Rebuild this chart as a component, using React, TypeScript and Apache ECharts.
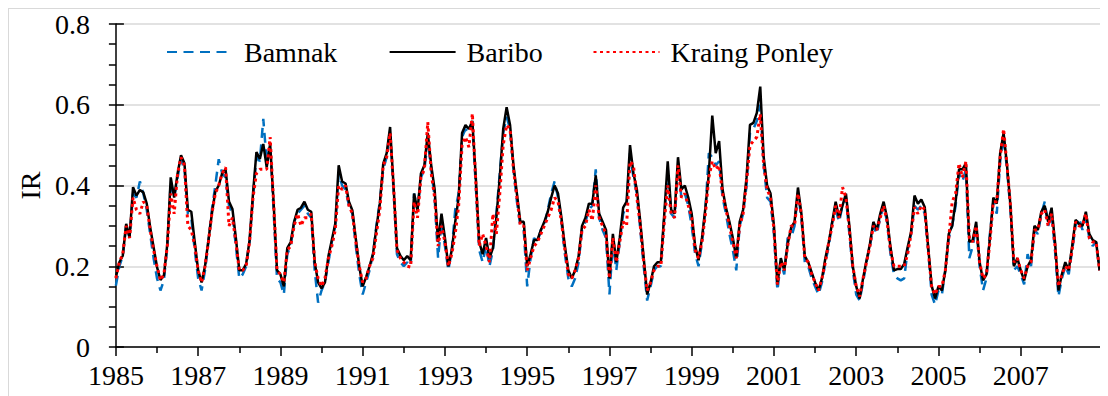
import React, { useEffect, useRef } from 'react';
import * as echarts from 'echarts';

// Years of the record; each row below holds the 12 monthly values of that year.
const years: number[] = [1985, 1986, 1987, 1988, 1989, 1990, 1991, 1992, 1993, 1994, 1995, 1996, 1997, 1998, 1999, 2000, 2001, 2002, 2003, 2004, 2005, 2006, 2007, 2008];

const xTickYears: number[] = [1985, 1987, 1989, 1991, 1993, 1995, 1997, 1999, 2001, 2003, 2005, 2007, 2009];
const yTicks: number[] = [0, 0.2, 0.4, 0.6, 0.8];

const seriesNames: string[] = ['Bamnak', 'Baribo', 'Kraing Ponley'];

const bamnak: number[][] = [
  [0.152, 0.2, 0.225, 0.3, 0.27, 0.38, 0.37, 0.41, 0.38, 0.34, 0.28, 0.22],
  [0.17, 0.14, 0.165, 0.25, 0.41, 0.37, 0.42, 0.465, 0.44, 0.33, 0.32, 0.24],
  [0.17, 0.14, 0.19, 0.26, 0.34, 0.4, 0.465, 0.43, 0.42, 0.35, 0.33, 0.25],
  [0.17, 0.18, 0.2, 0.26, 0.37, 0.47, 0.46, 0.565, 0.46, 0.5, 0.34, 0.17],
  [0.16, 0.13, 0.23, 0.25, 0.31, 0.33, 0.34, 0.35, 0.33, 0.32, 0.19, 0.11],
  [0.14, 0.16, 0.21, 0.26, 0.3, 0.43, 0.4, 0.39, 0.35, 0.33, 0.25, 0.18],
  [0.13, 0.16, 0.19, 0.23, 0.3, 0.36, 0.44, 0.47, 0.53, 0.39, 0.23, 0.21],
  [0.2, 0.21, 0.2, 0.38, 0.34, 0.42, 0.44, 0.51, 0.44, 0.37, 0.22, 0.31],
  [0.25, 0.19, 0.24, 0.34, 0.38, 0.52, 0.54, 0.53, 0.55, 0.4, 0.24, 0.21],
  [0.25, 0.2, 0.24, 0.33, 0.43, 0.53, 0.57, 0.54, 0.44, 0.36, 0.3, 0.29],
  [0.15, 0.22, 0.27, 0.26, 0.29, 0.3, 0.34, 0.38, 0.41, 0.37, 0.31, 0.23],
  [0.17, 0.15, 0.17, 0.21, 0.29, 0.31, 0.34, 0.35, 0.44, 0.32, 0.29, 0.27],
  [0.13, 0.26, 0.19, 0.26, 0.33, 0.35, 0.48, 0.42, 0.38, 0.29, 0.2, 0.115],
  [0.15, 0.19, 0.2, 0.2, 0.32, 0.44, 0.33, 0.32, 0.45, 0.37, 0.38, 0.35],
  [0.3, 0.23, 0.2, 0.26, 0.34, 0.48, 0.47, 0.45, 0.46, 0.37, 0.33, 0.28],
  [0.24, 0.19, 0.3, 0.33, 0.4, 0.53, 0.54, 0.56, 0.6, 0.45, 0.37, 0.36],
  [0.28, 0.14, 0.21, 0.18, 0.27, 0.27, 0.3, 0.38, 0.32, 0.21, 0.2, 0.17],
  [0.15, 0.13, 0.16, 0.21, 0.25, 0.31, 0.34, 0.31, 0.35, 0.37, 0.28, 0.19],
  [0.13, 0.115, 0.16, 0.21, 0.25, 0.3, 0.28, 0.32, 0.35, 0.31, 0.23, 0.18],
  [0.17, 0.165, 0.17, 0.24, 0.28, 0.35, 0.34, 0.35, 0.33, 0.24, 0.13, 0.105],
  [0.14, 0.13, 0.19, 0.27, 0.3, 0.35, 0.43, 0.41, 0.44, 0.22, 0.25, 0.3],
  [0.2, 0.14, 0.17, 0.28, 0.36, 0.33, 0.46, 0.52, 0.44, 0.34, 0.19, 0.2],
  [0.18, 0.155, 0.23, 0.2, 0.29, 0.28, 0.33, 0.36, 0.3, 0.33, 0.24, 0.125],
  [0.17, 0.2, 0.18, 0.24, 0.3, 0.32, 0.29, 0.32, 0.27, 0.25, 0.26, 0.19],
];

const baribo: number[][] = [
  [0.173, 0.21, 0.226, 0.305, 0.272, 0.396, 0.375, 0.389, 0.383, 0.355, 0.297, 0.247],
  [0.198, 0.166, 0.177, 0.255, 0.42, 0.37, 0.43, 0.475, 0.455, 0.34, 0.335, 0.26],
  [0.19, 0.16, 0.2, 0.265, 0.33, 0.385, 0.4, 0.43, 0.44, 0.36, 0.342, 0.27],
  [0.19, 0.19, 0.206, 0.264, 0.38, 0.483, 0.466, 0.503, 0.445, 0.503, 0.36, 0.19],
  [0.18, 0.15, 0.245, 0.26, 0.31, 0.34, 0.345, 0.36, 0.34, 0.335, 0.21, 0.16],
  [0.145, 0.16, 0.225, 0.265, 0.305, 0.45, 0.41, 0.405, 0.36, 0.338, 0.268, 0.2],
  [0.15, 0.173, 0.2, 0.23, 0.295, 0.355, 0.454, 0.48, 0.545, 0.4, 0.245, 0.226],
  [0.215, 0.225, 0.215, 0.38, 0.338, 0.43, 0.45, 0.53, 0.45, 0.39, 0.26, 0.33],
  [0.27, 0.2, 0.24, 0.31, 0.37, 0.53, 0.55, 0.54, 0.56, 0.42, 0.26, 0.23],
  [0.27, 0.22, 0.245, 0.32, 0.42, 0.54, 0.594, 0.55, 0.45, 0.38, 0.31, 0.31],
  [0.2, 0.23, 0.265, 0.265, 0.29, 0.31, 0.335, 0.37, 0.4, 0.38, 0.32, 0.25],
  [0.19, 0.17, 0.19, 0.225, 0.3, 0.32, 0.355, 0.355, 0.425, 0.33, 0.31, 0.29],
  [0.17, 0.28, 0.21, 0.27, 0.345, 0.36, 0.5, 0.43, 0.39, 0.31, 0.22, 0.13],
  [0.16, 0.2, 0.21, 0.21, 0.33, 0.46, 0.34, 0.33, 0.47, 0.39, 0.4, 0.37],
  [0.33, 0.25, 0.215, 0.27, 0.345, 0.43, 0.573, 0.48, 0.51, 0.39, 0.345, 0.31],
  [0.27, 0.22, 0.31, 0.34, 0.42, 0.55, 0.555, 0.58, 0.645, 0.47, 0.4, 0.38],
  [0.3, 0.155, 0.22, 0.19, 0.255, 0.295, 0.31, 0.395, 0.33, 0.225, 0.21, 0.185],
  [0.16, 0.14, 0.17, 0.22, 0.26, 0.31, 0.36, 0.32, 0.35, 0.38, 0.3, 0.2],
  [0.15, 0.12, 0.17, 0.214, 0.255, 0.31, 0.29, 0.33, 0.36, 0.32, 0.247, 0.19],
  [0.193, 0.193, 0.206, 0.247, 0.285, 0.375, 0.355, 0.365, 0.346, 0.247, 0.152, 0.12],
  [0.15, 0.14, 0.19, 0.28, 0.3, 0.36, 0.44, 0.44, 0.455, 0.26, 0.265, 0.31],
  [0.21, 0.165, 0.18, 0.27, 0.37, 0.355, 0.48, 0.53, 0.45, 0.35, 0.2, 0.22],
  [0.19, 0.165, 0.2, 0.215, 0.3, 0.29, 0.335, 0.35, 0.31, 0.345, 0.26, 0.14],
  [0.18, 0.21, 0.19, 0.25, 0.315, 0.305, 0.3, 0.335, 0.28, 0.265, 0.26, 0.19],
];

const kraingPonley: number[][] = [
  [0.17, 0.21, 0.23, 0.3, 0.27, 0.37, 0.34, 0.33, 0.36, 0.35, 0.29, 0.24],
  [0.2, 0.165, 0.18, 0.25, 0.38, 0.33, 0.43, 0.47, 0.45, 0.3, 0.29, 0.25],
  [0.19, 0.16, 0.2, 0.26, 0.33, 0.38, 0.4, 0.43, 0.445, 0.3, 0.32, 0.26],
  [0.19, 0.19, 0.2, 0.26, 0.37, 0.43, 0.44, 0.44, 0.44, 0.52, 0.36, 0.19],
  [0.18, 0.16, 0.24, 0.25, 0.3, 0.33, 0.3, 0.32, 0.32, 0.33, 0.21, 0.17],
  [0.15, 0.17, 0.22, 0.25, 0.29, 0.4, 0.39, 0.4, 0.35, 0.33, 0.26, 0.2],
  [0.16, 0.17, 0.2, 0.22, 0.28, 0.34, 0.45, 0.47, 0.53, 0.4, 0.24, 0.22],
  [0.21, 0.2, 0.198, 0.36, 0.32, 0.42, 0.44, 0.557, 0.43, 0.37, 0.25, 0.3],
  [0.26, 0.2, 0.23, 0.28, 0.35, 0.5, 0.52, 0.495, 0.578, 0.41, 0.25, 0.28],
  [0.25, 0.21, 0.33, 0.28, 0.38, 0.5, 0.55, 0.54, 0.44, 0.37, 0.3, 0.3],
  [0.19, 0.22, 0.25, 0.26, 0.28, 0.3, 0.32, 0.34, 0.37, 0.36, 0.31, 0.24],
  [0.18, 0.17, 0.19, 0.22, 0.29, 0.3, 0.34, 0.313, 0.4, 0.32, 0.3, 0.28],
  [0.17, 0.27, 0.21, 0.26, 0.31, 0.3, 0.46, 0.45, 0.37, 0.3, 0.21, 0.14],
  [0.16, 0.19, 0.2, 0.2, 0.31, 0.4, 0.33, 0.32, 0.45, 0.37, 0.38, 0.35],
  [0.32, 0.24, 0.22, 0.26, 0.33, 0.42, 0.46, 0.44, 0.45, 0.38, 0.34, 0.3],
  [0.26, 0.22, 0.3, 0.33, 0.41, 0.5, 0.51, 0.52, 0.577, 0.45, 0.39, 0.37],
  [0.29, 0.155, 0.21, 0.19, 0.25, 0.3, 0.3, 0.38, 0.33, 0.22, 0.21, 0.18],
  [0.16, 0.14, 0.17, 0.21, 0.26, 0.3, 0.35, 0.32, 0.396, 0.37, 0.29, 0.2],
  [0.15, 0.125, 0.17, 0.21, 0.25, 0.3, 0.29, 0.32, 0.35, 0.31, 0.24, 0.2],
  [0.2, 0.2, 0.2, 0.23, 0.28, 0.346, 0.33, 0.35, 0.34, 0.24, 0.15, 0.13],
  [0.15, 0.15, 0.19, 0.27, 0.36, 0.38, 0.455, 0.42, 0.46, 0.27, 0.26, 0.3],
  [0.21, 0.17, 0.18, 0.26, 0.36, 0.36, 0.47, 0.54, 0.45, 0.35, 0.21, 0.22],
  [0.19, 0.17, 0.2, 0.21, 0.29, 0.29, 0.33, 0.34, 0.3, 0.33, 0.25, 0.15],
  [0.18, 0.2, 0.19, 0.24, 0.31, 0.3, 0.3, 0.33, 0.27, 0.26, 0.26, 0.19],
];

const toPairs = (rows: number[][]) =>
  rows.flatMap((row, yi) => row.map((v, mi) => [years[yi] + mi / 12, v]));

export default function App() {
  const ref = useRef<HTMLDivElement>(null);

  useEffect(() => {
    document.documentElement.style.overflow = 'hidden';
    document.body.style.overflow = 'hidden';
    const chart = echarts.init(ref.current!, undefined, { renderer: 'svg' });
    const font = 'Liberation Serif';
    const legendBase = {
      orient: 'horizontal',
      padding: 0,
      itemWidth: 66,
      itemHeight: 14,
      top: 30,
      selectedMode: false,
      itemStyle: { opacity: 0, borderWidth: 0 },
      textStyle: { fontFamily: font, fontSize: 28, color: '#000', padding: [0, 0, 0, 6] },
    };
    const xMin = xTickYears[0];
    const xMax = xTickYears[xTickYears.length - 1];
    const yMin = yTicks[0];
    const yMax = yTicks[yTicks.length - 1];
    chart.setOption({
      animation: false,
      backgroundColor: '#fff',
      grid: { left: 105.5, right: 5, top: 16, bottom: 49 },
      legend: [
        { ...legendBase, left: 158, data: [seriesNames[0]] },
        { ...legendBase, left: 380.6, data: [seriesNames[1]] },
        { ...legendBase, left: 584.5, data: [seriesNames[2]] },
      ],
      graphic: [
        { type: 'line', shape: { x1: 0, y1: 0.5, x2: 1100, y2: 0.5 }, style: { stroke: '#d9d9d9', lineWidth: 1 } },
        { type: 'line', shape: { x1: 0.5, y1: 0, x2: 0.5, y2: 388 }, style: { stroke: '#d9d9d9', lineWidth: 1 } },
      ],
      xAxis: {
        type: 'value',
        min: xMin,
        max: xMax,
        interval: 2,
        axisLine: { lineStyle: { color: '#000', width: 1.5 } },
        axisTick: { length: 9, lineStyle: { color: '#000', width: 1.5 } },
        minorTick: { show: true, splitNumber: 2, length: 6, lineStyle: { color: '#000', width: 1.5 } },
        splitLine: { show: false },
        axisLabel: {
          margin: 14,
          fontFamily: font,
          fontSize: 28,
          color: '#000',
          formatter: (v: number) => (v >= xMax ? '' : String(v)),
        },
      },
      yAxis: [
        {
          type: 'value',
          min: yMin,
          max: yMax,
          interval: 0.2,
          name: 'IR',
          nameLocation: 'middle',
          nameRotate: 90,
          nameGap: 66,
          nameTextStyle: { fontFamily: font, fontSize: 28, color: '#000' },
          axisLine: { show: true, lineStyle: { color: '#000', width: 1.5 } },
          axisTick: { show: true, length: 7, lineStyle: { color: '#000', width: 1.5 } },
          minorTick: { show: true, splitNumber: 4, length: 7, lineStyle: { color: '#000', width: 1.5 } },
          splitLine: { show: true, lineStyle: { color: '#d9d9d9', width: 1.5 } },
          axisLabel: { margin: 26, fontFamily: font, fontSize: 28, color: '#000' },
        },
        {
          type: 'value',
          min: yMin,
          max: yMax,
          interval: 0.2,
          position: 'left',
          axisLine: { show: false },
          axisTick: { show: true, inside: true, length: 8, lineStyle: { color: '#000', width: 1.5 } },
          axisLabel: { show: false },
          splitLine: { show: false },
        },
      ],
      series: [
        {
          name: seriesNames[0],
          type: 'line',
          data: toPairs(bamnak),
          symbol: 'none',
          lineStyle: { color: '#0070C0', width: 2.5, type: [10, 6.5] },
          itemStyle: { color: '#0070C0' },
        },
        {
          name: seriesNames[1],
          type: 'line',
          data: toPairs(baribo),
          symbol: 'none',
          lineStyle: { color: '#000000', width: 2.5 },
          itemStyle: { color: '#000000' },
        },
        {
          name: seriesNames[2],
          type: 'line',
          data: toPairs(kraingPonley),
          symbol: 'none',
          lineStyle: { color: '#FF0000', width: 3, type: [3, 3.5] },
          itemStyle: { color: '#FF0000' },
        },
      ],
    });
    return () => chart.dispose();
  }, []);

  return <div ref={ref} style={{ width: 1100, height: 388 }} />;
}
